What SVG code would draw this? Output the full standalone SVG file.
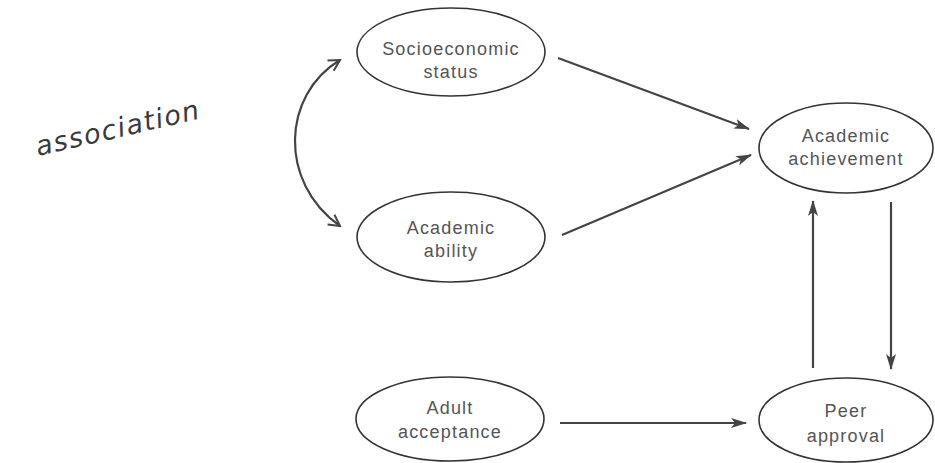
<svg xmlns="http://www.w3.org/2000/svg" width="935" height="463" viewBox="0 0 935 463">
<style>
.node ellipse{fill:#fff;stroke:#333;stroke-width:1.6}
.node text{font-family:"Liberation Sans",Arial,sans-serif;font-size:18px;letter-spacing:1.2px;fill:#555;text-anchor:middle}
.edge{fill:none;stroke:#444;stroke-width:2.2}
</style>
<defs>
<marker id="ah" viewBox="0 0 16 10" refX="15" refY="5" markerWidth="16" markerHeight="10" markerUnits="userSpaceOnUse" orient="auto-start-reverse">
<path d="M0,0 L16,5 L0,10 L4,5 Z" fill="#444"/>
</marker>
<marker id="oh" viewBox="0 0 14 14" refX="12" refY="7" markerWidth="14" markerHeight="14" markerUnits="userSpaceOnUse" orient="auto-start-reverse">
<path d="M1,1 L12,7 L1,13" fill="none" stroke="#444" stroke-width="2"/>
</marker>
</defs>
<rect width="935" height="463" fill="#fff"/>
<text x="38" y="156" transform="rotate(-13 38 156)" font-family="DejaVu Sans, sans-serif" font-size="27" letter-spacing="1.5" fill="#3a3a3a" font-style="italic">association</text>
<g id="connectors">
<path class="edge" d="M340,60 C282,95 278,182 340,226" marker-start="url(#oh)" marker-end="url(#oh)"/>
<line class="edge" x1="558" y1="58" x2="749" y2="129" marker-end="url(#ah)"/>
<line class="edge" x1="562" y1="235" x2="751" y2="155" marker-end="url(#ah)"/>
<line class="edge" x1="560" y1="423" x2="746" y2="423" marker-end="url(#ah)"/>
<line class="edge" x1="813" y1="368" x2="813" y2="201" marker-end="url(#ah)"/>
<line class="edge" x1="891" y1="202" x2="891" y2="369" marker-end="url(#ah)"/>
</g>
<g id="socioeconomic" class="node">
<ellipse cx="451" cy="52" rx="94" ry="44"/>
<text x="451" y="55">Socioeconomic</text>
<text x="451" y="78">status</text>
</g>
<g id="ability" class="node">
<ellipse cx="451" cy="237" rx="94" ry="45"/>
<text x="451" y="234">Academic</text>
<text x="451" y="257">ability</text>
</g>
<g id="adult" class="node">
<ellipse cx="450" cy="419" rx="94" ry="42"/>
<text x="450" y="414">Adult</text>
<text x="450" y="438">acceptance</text>
</g>
<g id="achievement" class="node">
<ellipse cx="846" cy="148" rx="87" ry="45"/>
<text x="846" y="142">Academic</text>
<text x="846" y="165">achievement</text>
</g>
<g id="peer" class="node">
<ellipse cx="846" cy="420" rx="87" ry="42"/>
<text x="846" y="417">Peer</text>
<text x="846" y="442">approval</text>
</g>
</svg>
